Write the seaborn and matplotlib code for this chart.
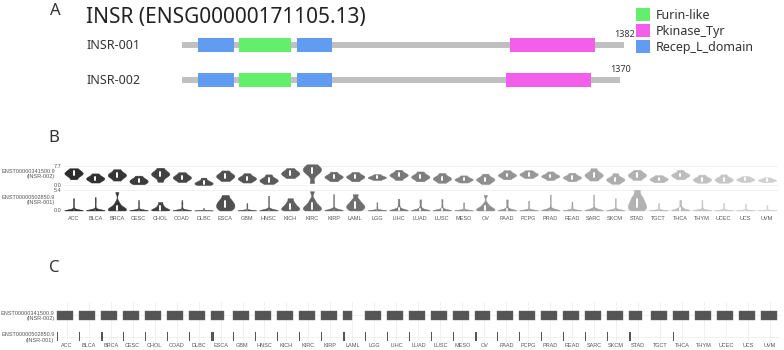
import matplotlib
matplotlib.use("Agg")
import matplotlib.pyplot as plt
from matplotlib.patches import Patch
import seaborn as sns
import pandas as pd

# ---- panel A: transcript structure ----
transcripts = ["INSR-001", "INSR-002"]
transcript_len = [1382, 1370]
domain_names = ["Furin-like", "Pkinase_Tyr", "Recep_L_domain"]
domain_colors = ["#63ee6b", "#f35fe9", "#619cf1"]
dom_transcript = [0, 0, 0, 0, 1, 1, 1, 1]
dom_name = ["Recep_L_domain", "Furin-like", "Recep_L_domain", "Pkinase_Tyr",
            "Recep_L_domain", "Furin-like", "Recep_L_domain", "Pkinase_Tyr"]
dom_start = [50, 178, 359, 1025, 50, 178, 359, 1012]
dom_end = [162, 341, 469, 1291, 162, 341, 469, 1278]

# ---- panels B/C: isoform expression per cancer type ----
cancers = ["ACC", "BLCA", "BRCA", "CESC", "CHOL", "COAD", "DLBC", "ESCA", "GBM",
           "HNSC", "KICH", "KIRC", "KIRP", "LAML", "LGG", "LIHC", "LUAD", "LUSC",
           "MESO", "OV", "PAAD", "PCPG", "PRAD", "READ", "SARC", "SKCM", "STAD",
           "TGCT", "THCA", "THYM", "UCEC", "UCS", "UVM"]
iso_labels = ["ENST00000341500.9\n(INSR-002)", "ENST00000502850.9\n(INSR-001)"]

expr_002 = [
    [2.3, 3.7, 4.3, 4.75, 5.2, 5.8, 6.8],
    [1.0, 1.9, 2.3, 2.7, 3.1, 3.6, 4.7],
    [1.8, 3.0, 3.6, 4.05, 4.5, 5.1, 6.4],
    [0.3, 0.9, 1.3, 1.75, 2.2, 2.7, 3.8],
    [1.3, 3.3, 4.0, 4.45, 4.9, 5.5, 7.0],
    [1.2, 2.2, 2.7, 3.1, 3.5, 4.1, 5.2],
    [0.0, 0.3, 0.6, 0.9, 1.3, 1.8, 3.0],
    [1.6, 2.6, 3.2, 3.65, 4.1, 4.7, 5.9],
    [1.0, 1.9, 2.3, 2.7, 3.1, 3.6, 4.8],
    [0.4, 1.2, 1.6, 2.0, 2.4, 3.0, 4.3],
    [2.8, 3.8, 4.3, 4.75, 5.2, 5.8, 6.9],
    [0.8, 4.4, 5.5, 6.1, 6.6, 7.2, 8.4],
    [1.5, 2.5, 3.0, 3.35, 3.7, 4.2, 5.4],
    [1.5, 2.5, 3.0, 3.35, 3.7, 4.2, 5.3],
    [2.0, 2.6, 2.9, 3.1, 3.35, 3.7, 4.4],
    [2.0, 3.2, 3.7, 4.05, 4.45, 4.9, 6.2],
    [1.5, 2.5, 3.0, 3.35, 3.75, 4.3, 5.5],
    [0.9, 1.9, 2.3, 2.7, 3.1, 3.6, 4.9],
    [1.0, 1.7, 2.0, 2.3, 2.6, 3.0, 3.9],
    [0.4, 1.4, 1.9, 2.3, 2.7, 3.2, 4.6],
    [2.3, 3.3, 3.7, 4.05, 4.4, 4.9, 6.0],
    [2.8, 3.6, 4.0, 4.35, 4.7, 5.1, 6.0],
    [2.0, 3.0, 3.35, 3.65, 3.95, 4.4, 5.5],
    [1.5, 2.4, 2.8, 3.1, 3.4, 3.9, 5.0],
    [1.8, 3.0, 3.6, 4.05, 4.5, 5.1, 6.8],
    [0.5, 1.5, 1.9, 2.3, 2.7, 3.2, 4.8],
    [2.0, 3.1, 3.6, 4.05, 4.5, 5.0, 6.2],
    [1.1, 1.8, 2.1, 2.45, 2.8, 3.2, 4.0],
    [2.3, 3.3, 3.7, 4.05, 4.4, 4.9, 6.2],
    [0.9, 1.6, 1.9, 2.3, 2.7, 3.1, 4.2],
    [0.9, 1.6, 1.9, 2.3, 2.7, 3.1, 4.3],
    [1.2, 1.8, 2.05, 2.3, 2.6, 2.9, 3.6],
    [1.1, 1.6, 1.8, 2.0, 2.25, 2.5, 3.1],
]

# most tumour types: nearly all samples at zero, a thin tail of a few samples
expr_001 = [
    [0] * 18 + [0.02, 0.05, 0.1, 0.2, 0.7, 1.3, 2.0, 2.7, 3.3],
    [0] * 18 + [0.02, 0.05, 0.1, 0.2, 0.7, 1.4, 2.2, 2.9, 3.6],
    [0.0, 0.05, 0.15, 0.3, 0.5, 0.8, 1.3, 2.2, 5.0],
    [0] * 18 + [0.02, 0.05, 0.1, 0.2, 0.6, 1.1, 1.7, 2.2, 2.8],
    [0.0, 0.05, 0.15, 0.3, 0.5, 0.75, 1.1, 1.6, 2.3],
    [0] * 16 + [0.02, 0.05, 0.1, 0.2, 0.6, 1.1, 1.7, 2.2, 2.8],
    [0] * 12 + [0.02, 0.05, 0.1, 0.2, 0.3, 0.45, 0.6],
    [0.0, 0.5, 0.9, 1.3, 1.7, 2.1, 2.6, 3.2, 4.2],
    [0] * 18 + [0.02, 0.05, 0.1, 0.2, 0.4, 0.8, 1.2, 1.6, 2.0],
    [0] * 18 + [0.02, 0.05, 0.1, 0.2, 0.8, 1.6, 2.4, 3.2, 4.0],
    [0.0, 0.2, 0.45, 0.7, 1.0, 1.35, 1.8, 2.4, 3.3],
    [0.0, 0.2, 0.4, 0.7, 1.0, 1.4, 2.0, 2.9, 5.2],
    [0] * 18 + [0.02, 0.05, 0.1, 0.2, 0.9, 1.8, 2.6, 3.5, 4.4],
    [0.0, 0.4, 0.8, 1.1, 1.4, 1.8, 2.3, 3.0, 4.4],
    [0] * 18 + [0.02, 0.05, 0.1, 0.2, 0.45, 0.9, 1.3, 1.8, 2.2],
    [0] * 10 + [0.05, 0.1, 0.2, 0.3, 0.45, 0.6, 0.9, 1.4, 2.0, 2.6, 3.2],
    [0] * 12 + [0.05, 0.1, 0.2, 0.3, 0.45, 0.6, 0.9, 1.4, 2.0, 2.5, 3.0],
    [0] * 14 + [0.05, 0.1, 0.2, 0.35, 0.6, 1.2, 1.8, 2.5, 3.1],
    [0] * 18 + [0.02, 0.05, 0.1, 0.2, 0.45, 0.9, 1.3, 1.8, 2.2],
    [0.0, 0.05, 0.15, 0.3, 0.5, 0.8, 1.2, 1.9, 4.2],
    [0] * 12 + [0.05, 0.1, 0.2, 0.3, 0.45, 0.6, 0.9, 1.4, 2.0, 2.5, 3.0],
    [0] * 18 + [0.02, 0.05, 0.1, 0.2, 0.5, 1.0, 1.6, 2.1, 2.6],
    [0] * 16 + [0.02, 0.05, 0.1, 0.2, 0.35, 0.9, 1.7, 2.6, 3.4, 4.3],
    [0] * 16 + [0.02, 0.05, 0.1, 0.2, 0.5, 1.0, 1.4, 1.9, 2.4],
    [0] * 16 + [0.02, 0.05, 0.1, 0.2, 0.35, 0.9, 1.7, 2.6, 3.4, 4.3],
    [0] * 18 + [0.02, 0.05, 0.1, 0.2, 0.7, 1.3, 2.0, 2.7, 3.3],
    [0.0, 0.4, 0.9, 1.4, 1.9, 2.5, 3.2, 4.0, 5.6],
    [0] * 18 + [0.02, 0.05, 0.1, 0.2, 0.4, 0.8, 1.2, 1.6, 2.0],
    [0] * 8 + [0.05, 0.1, 0.2, 0.3, 0.45, 0.6, 0.8, 1.1, 1.7, 2.3, 2.9],
    [0] * 18 + [0.02, 0.05, 0.1, 0.2, 0.6, 1.2, 1.7, 2.3, 2.9],
    [0] * 18 + [0.02, 0.05, 0.1, 0.2, 0.4, 0.8, 1.2, 1.6, 2.0],
    [0] * 18 + [0.02, 0.05, 0.1, 0.2, 0.35, 0.7, 1.1, 1.4, 1.8],
    [0] * 18 + [0.02, 0.05, 0.1, 0.2, 0.3, 0.6, 0.9, 1.2, 1.5],
]

share_002 = [0.81, 0.81, 0.81, 0.81, 0.81, 0.81, 0.79, 0.66, 0.81, 0.81, 0.81,
             0.81, 0.81, 0.44, 0.82, 0.81, 0.81, 0.81, 0.81, 0.79, 0.81, 0.81,
             0.81, 0.81, 0.81, 0.81, 0.67, 0.84, 0.84, 0.84, 0.84, 0.82, 0.84]
share_001 = [0.04, 0.05, 0.07, 0.04, 0.05, 0.04, 0.04, 0.15, 0.04, 0.04, 0.07,
             0.05, 0.05, 0.10, 0.04, 0.05, 0.05, 0.05, 0.04, 0.09, 0.05, 0.04,
             0.05, 0.04, 0.05, 0.05, 0.14, 0.04, 0.05, 0.04, 0.04, 0.04, 0.04]

W, H = 784, 350
TXT = "#333333"
TICK = "#555555"

sns.set_theme(style="whitegrid", rc={"grid.color": "#ebebeb", "grid.linewidth": 0.5})
plt.rcParams["font.family"] = ["Noto Sans", "DejaVu Sans"]

fig = plt.figure(figsize=(W / 100, H / 100), dpi=100)


def px_axes(x0, y0, x1, y1):
    return fig.add_axes([x0 / W, 1 - y1 / H, (x1 - x0) / W, (y1 - y0) / H])


# ---------------- A ----------------
ax_a = px_axes(0, 0, W, 100)
ax_a.set_xlim(-569, 1882)
ax_a.set_ylim(1.571, -1.286)
ax_a.axis("off")
color_of = dict(zip(domain_names, domain_colors))
rows = list(range(len(transcripts)))
ax_a.barh(rows, transcript_len, left=0, height=0.17, color="#c0c0c0", linewidth=0)
for t, n, s, e in zip(dom_transcript, dom_name, dom_start, dom_end):
    ax_a.barh(t, e - s, left=s, height=0.4, color=color_of[n], linewidth=0)
for r, name, ln in zip(rows, transcripts, transcript_len):
    ax_a.text(87 / W, r, name, transform=ax_a.get_yaxis_transform(),
              ha="left", va="center", fontsize=9, color=TXT)
    ax_a.text(ln, r - 0.29, str(ln), ha="center", va="center", fontsize=6.5, color=TXT)

fig.text(55 / W, 1 - 11 / H, "A", ha="center", va="center", fontsize=12, color=TXT)
fig.text(86 / W, 1 - 17 / H, "INSR (ENSG00000171105.13)", ha="left", va="center",
         fontsize=15, color="#222222")
handles = [Patch(facecolor=c, edgecolor="none") for c in domain_colors]
fig.legend(handles, domain_names, loc="upper left", bbox_to_anchor=(636 / W, 1 - 8 / H),
           frameon=False, fontsize=9, handlelength=1.1, handleheight=1.2,
           handletextpad=0.5, labelspacing=0.2, borderaxespad=0, borderpad=0,
           labelcolor=TXT)

# ---------------- B ----------------
fig.text(54 / W, 1 - 138 / H, "B", ha="center", va="center", fontsize=12, color=TXT)
pal = sns.blend_palette(["#2c2c2c", "#d0d0d0"], n_colors=len(cancers))

ax_b1 = px_axes(62.7, 162, 777.8, 188)
ax_b2 = px_axes(62.7, 189, 777.8, 213)
for ax, data, ylim, ticks, lab, ly, bw in [
        (ax_b1, expr_002, (-1.21, 9.32), [0, 7.7], iso_labels[0], 174, 0.8),
        (ax_b2, expr_001, (-0.68, 5.8), [0, 5.4], iso_labels[1], 200, 0.6)]:
    df = pd.DataFrame([(c, v) for c, vals in zip(cancers, data) for v in vals],
                      columns=["cancer", "expr"])
    sns.violinplot(data=df, x="cancer", y="expr", hue="cancer", order=cancers,
                   hue_order=cancers, palette=pal, legend=False, ax=ax, cut=0,
                   density_norm="width", width=0.85, bw_adjust=bw, linewidth=0.3,
                   inner="box", inner_kws=dict(box_width=1.4, whis_width=0, color="white"))
    for coll in ax.collections:
        coll.set_edgecolor(coll.get_facecolor())
    ax.set_xlim(-0.5, len(cancers) - 0.5)
    ax.set_ylim(*ylim)
    ax.set_yticks(ticks)
    ax.set_yticklabels([f"{t:.1f}" for t in ticks])
    ax.set_xlabel("")
    ax.set_ylabel("")
    ax.tick_params(length=0, pad=1, labelsize=4, labelcolor=TICK)
    for s in ax.spines.values():
        s.set_visible(False)
    fig.text(55 / W, 1 - ly / H, lab, ha="right", va="center", fontsize=4,
             color=TICK, family="Liberation Sans", linespacing=1.1)
    for t in ax.get_yticklabels() + ax.get_xticklabels():
        t.set_family("Liberation Sans")
ax_b1.set_xticklabels([])
ax_b2.tick_params(axis="x", pad=2.5)

# ---------------- C ----------------
fig.text(54 / W, 1 - 268 / H, "C", ha="center", va="center", fontsize=12, color=TXT)
ax_c = px_axes(55.7, 302, 781, 342)
xpos = list(range(len(cancers)))
ax_c.barh([0] * len(cancers), [s * 0.9 for s in share_002], left=[x - 0.43 for x in xpos],
          height=0.415, color="#555555", edgecolor="#666666", linewidth=0.3)
ax_c.barh([1] * len(cancers), [s * 0.9 for s in share_001], left=[x - 0.43 for x in xpos],
          height=0.415, color="#555555", linewidth=0)
ax_c.set_xlim(-0.5, len(cancers) - 0.5)
ax_c.set_ylim(1.244, -0.6)
ax_c.set_xticks(xpos)
ax_c.set_xticklabels(cancers)
ax_c.set_yticks([0, 1])
ax_c.set_yticklabels(iso_labels, linespacing=1.1)
ax_c.tick_params(length=0, labelsize=4, labelcolor=TICK)
ax_c.tick_params(axis="x", pad=1)
ax_c.tick_params(axis="y", pad=1)
for t in ax_c.get_yticklabels() + ax_c.get_xticklabels():
    t.set_family("Liberation Sans")
for s in ax_c.spines.values():
    s.set_visible(False)

fig.savefig("out.png", dpi=100)
